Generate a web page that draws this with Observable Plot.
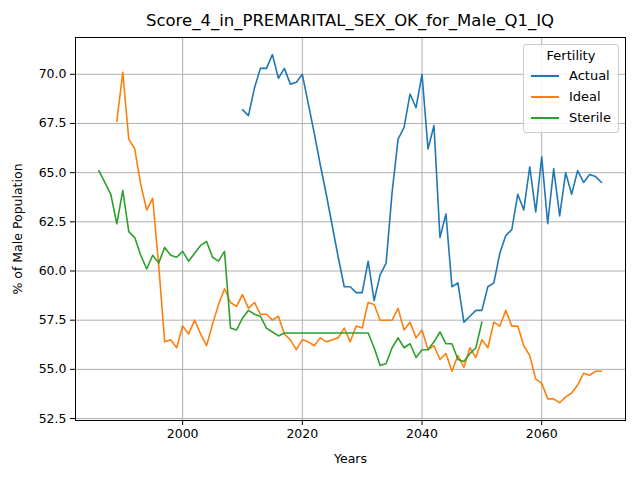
<!DOCTYPE html>
<html><head><meta charset="utf-8">
<script src="https://cdn.jsdelivr.net/npm/d3@7"></script>
<script src="https://cdn.jsdelivr.net/npm/@observablehq/plot@0.6"></script>
<style>
body{margin:0;font-family:"DejaVu Sans";background:#fff}
#wrap{position:relative;width:640px;height:480px}
#title{position:absolute;top:11px;width:640px;text-align:center;font-size:16.5px;padding-left:60px;box-sizing:border-box}
#chart{position:absolute;top:35px;left:0}
#legend{position:absolute;left:523px;top:44px;width:94px;border:1px solid #ccc;border-radius:3px;background:rgba(255,255,255,.85);font-size:13px;padding:3px 0 4px}
#legend .h{text-align:center;margin-bottom:2px}
#legend .r{display:flex;align-items:center;height:21px}
#legend .r span{display:inline-block;width:28px;height:2px;margin:0 10px 0 7px}
</style></head><body>
<div id="wrap"><div id="title">Score_4_in_PREMARITAL_SEX_OK_for_Male_Q1_IQ</div><div id="chart"></div>
<div id="legend"><div class="h">Fertility</div>
<div class="r"><span style="background:#1f77b4"></span>Actual</div>
<div class="r"><span style="background:#ff7f0e"></span>Ideal</div>
<div class="r"><span style="background:#2ca02c"></span>Sterile</div></div></div>
<script>
const actualStart = 2010;
const actual = [68.2,67.9,69.3,70.3,70.3,71.0,69.8,70.3,69.5,69.6,70.0,68.5,67.0,65.4,63.9,62.3,60.7,59.2,59.2,58.9,58.9,60.5,58.5,59.8,60.4,64.0,66.7,67.3,69.0,68.3,70.0,66.2,67.4,61.7,62.9,59.2,59.4,57.4,57.7,58.0,58.0,59.2,59.4,60.9,61.8,62.1,63.9,63.1,65.3,63.0,65.8,62.4,65.2,62.8,65.0,63.9,65.1,64.5,64.9,64.8,64.5];
const idealStart = 1989;
const ideal = [67.6,70.1,66.7,66.2,64.4,63.1,63.7,60.3,56.4,56.5,56.1,57.2,56.8,57.5,56.8,56.2,57.3,58.3,59.1,58.4,58.2,58.8,58.1,58.4,57.8,57.8,57.5,57.7,56.8,56.5,56.0,56.5,56.4,56.2,56.6,56.4,56.5,56.6,57.1,56.4,57.2,57.1,58.4,58.3,57.5,57.5,57.5,58.1,57.0,57.4,56.6,57.0,56.0,56.2,55.5,55.8,54.9,55.7,55.1,56.1,55.6,56.5,56.1,57.4,57.2,58.0,57.2,57.2,56.2,55.7,54.5,54.3,53.5,53.5,53.3,53.6,53.8,54.2,54.8,54.7,54.9,54.9];
const sterileStart = 1986;
const sterile = [65.1,64.5,63.9,62.4,64.1,62.0,61.7,60.8,60.1,60.8,60.4,61.2,60.8,60.7,61.0,60.5,60.9,61.3,61.5,60.7,60.5,61.0,57.1,57.0,57.6,58.0,57.8,57.7,57.1,56.9,56.7,56.85,56.85,56.85,56.85,56.85,56.85,56.85,56.85,56.85,56.85,56.85,56.85,56.85,56.85,56.85,56.1,55.2,55.3,56.1,56.6,56.1,56.3,55.6,56.0,56.0,56.4,56.9,56.3,56.3,55.5,55.4,55.8,56.1,57.4];
const series = [["Actual", actualStart, actual], ["Ideal", idealStart, ideal], ["Sterile", sterileStart, sterile]];
const rows = series.flatMap(([name, start, vals]) => vals.map((v, i) => ({name, year: start + i, v})));

const chart = Plot.plot({
  width: 640, height: 445,
  marginLeft: 75, marginRight: 15, marginTop: 2, marginBottom: 60,
  style: {fontFamily: "DejaVu Sans", fontSize: "12.5px", color: "#000"},
  x: {domain: [1982.1, 2074], ticks: [2000, 2020, 2040, 2060], tickFormat: d => String(d), label: "Years", labelArrow: "none", labelAnchor: "center", labelOffset: 42, tickSize: 5},
  y: {domain: [52.4, 71.87], ticks: d3.range(52.5, 70.01, 2.5), tickFormat: d => d.toFixed(1), label: "% of Male Population", labelArrow: "none", labelAnchor: "center", labelOffset: 62, tickSize: 5},
  color: {domain: ["Actual", "Ideal", "Sterile"], range: ["#1f77b4", "#ff7f0e", "#2ca02c"]},
  marks: [
    Plot.gridX([2000, 2020, 2040, 2060], {stroke: "#b0b0b0", strokeOpacity: 1}),
    Plot.gridY(d3.range(52.5, 70.01, 2.5), {stroke: "#b0b0b0", strokeOpacity: 1}),
    Plot.lineY(rows, {x: "year", y: "v", z: "name", stroke: "name", strokeWidth: 1.6}),
    Plot.frame({stroke: "#000"})
  ]
});
document.getElementById("chart").append(chart);
</script></body></html>
